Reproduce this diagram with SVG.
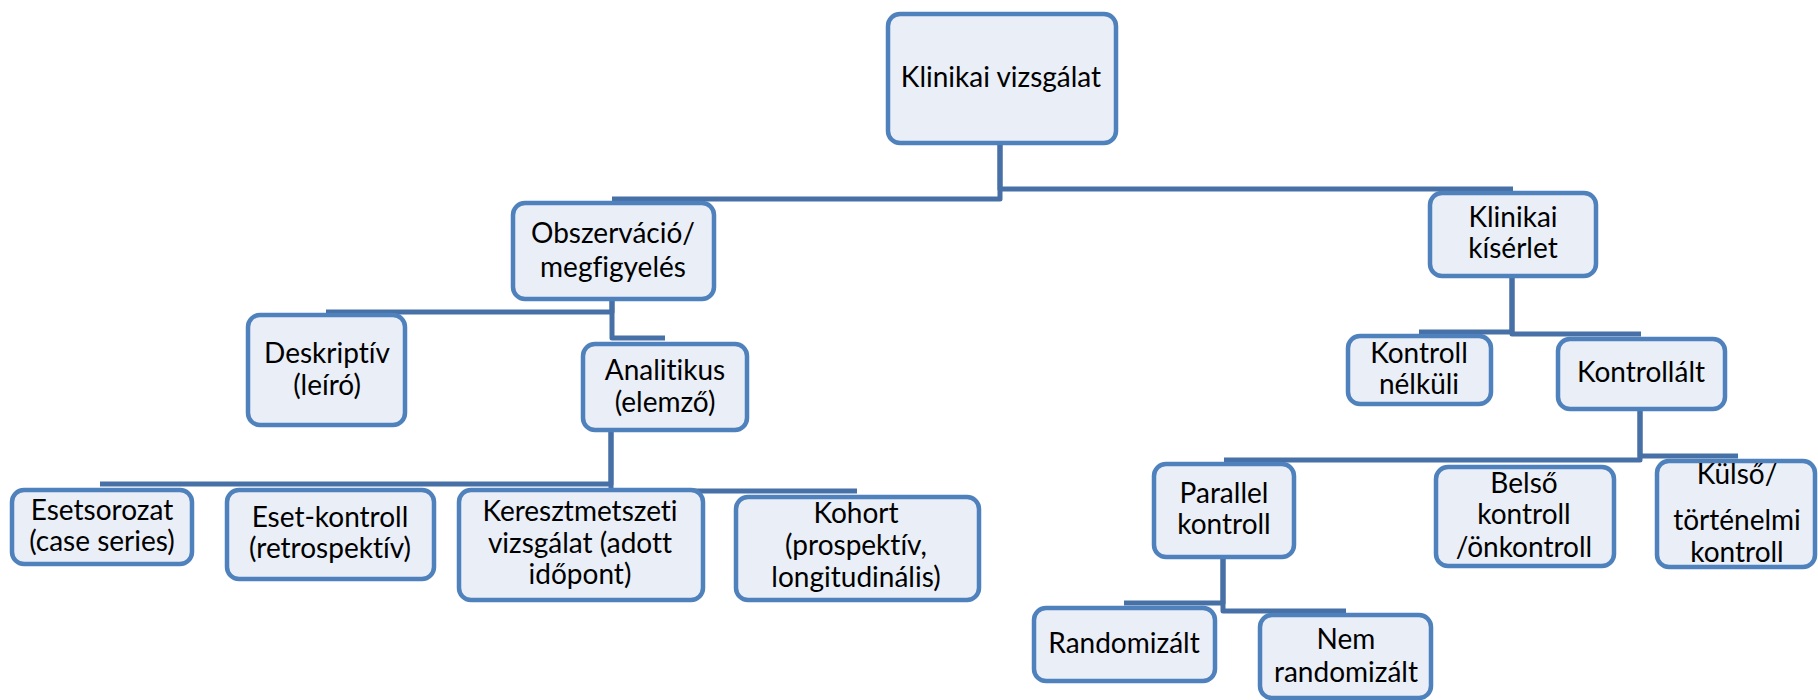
<svg xmlns="http://www.w3.org/2000/svg" width="1818" height="700" viewBox="0 0 1818 700">
<style>
.box{fill:#e9eef7;stroke:#4f81bd;stroke-width:4.5}
.t{font-family:Lato,"Open Sans","Liberation Sans",sans-serif;font-size:28px;fill:#000;text-anchor:middle;font-variant-ligatures:none;font-feature-settings:"liga" 0}
.c{fill:none;stroke:#4670a6;stroke-width:5;stroke-linejoin:round}
</style>
<rect width="1818" height="700" fill="#fff"/>
<g id="connectors">
<path class="c" d="M1000,144 V199 H612"/>
<path class="c" d="M1000,144 V189 H1513"/>
<path class="c" d="M612,300 V312 H326"/>
<path class="c" d="M612,300 V338 H665"/>
<path class="c" d="M611,431 V484 H100"/>
<path class="c" d="M611,431 V491 H857"/>
<path class="c" d="M1512,277 V332 H1419"/>
<path class="c" d="M1512,277 V334 H1641"/>
<path class="c" d="M1640,409 V460 H1224"/>
<path class="c" d="M1640,409 V456 H1738"/>
<path class="c" d="M1223,557 V603 H1124"/>
<path class="c" d="M1223,557 V611 H1346"/>
</g>
<g id="n-root"><rect class="box" x="888" y="14" width="228" height="129" rx="12"/><text class="t" x="1001" y="87">Klinikai vizsgálat</text></g>
<g id="n-obszervacio"><rect class="box" x="513" y="203" width="201" height="96" rx="12"/><text class="t" x="613" y="243">Obszerváció/</text><text class="t" x="613" y="277">megfigyelés</text></g>
<g id="n-deskriptiv"><rect class="box" x="248" y="315" width="157" height="110" rx="12"/><text class="t" x="327" y="363">Deskriptív</text><text class="t" x="327" y="395">(leíró)</text></g>
<g id="n-analitikus"><rect class="box" x="583" y="344" width="164" height="86" rx="12"/><text class="t" x="665" y="380">Analitikus</text><text class="t" x="665" y="412">(elemző)</text></g>
<g id="n-esetsorozat"><rect class="box" x="12" y="490" width="180" height="74" rx="12"/><text class="t" x="102" y="520">Esetsorozat</text><text class="t" x="102" y="551">(case series)</text></g>
<g id="n-esetkontroll"><rect class="box" x="227" y="490" width="207" height="89" rx="12"/><text class="t" x="330" y="527">Eset-kontroll</text><text class="t" x="330" y="558">(retrospektív)</text></g>
<g id="n-keresztmetszeti"><rect class="box" x="459" y="490" width="244" height="110" rx="12"/><text class="t" x="580" y="521">Keresztmetszeti</text><text class="t" x="580" y="553">vizsgálat (adott</text><text class="t" x="580" y="584">időpont)</text></g>
<g id="n-kohort"><rect class="box" x="736" y="497" width="243" height="103" rx="12"/><text class="t" x="856" y="523">Kohort</text><text class="t" x="856" y="555">(prospektív,</text><text class="t" x="856" y="587">longitudinális)</text></g>
<g id="n-klinikaikiserlet"><rect class="box" x="1430" y="193" width="166" height="83" rx="12"/><text class="t" x="1513" y="227">Klinikai</text><text class="t" x="1513" y="258">kísérlet</text></g>
<g id="n-kontrollnelkuli"><rect class="box" x="1348" y="336" width="143" height="68" rx="12"/><text class="t" x="1419" y="363">Kontroll</text><text class="t" x="1419" y="394">nélküli</text></g>
<g id="n-kontrollalt"><rect class="box" x="1558" y="339" width="167" height="70" rx="12"/><text class="t" x="1641" y="382">Kontrollált</text></g>
<g id="n-parallel"><rect class="box" x="1154" y="464" width="140" height="93" rx="12"/><text class="t" x="1224" y="503">Parallel</text><text class="t" x="1224" y="534">kontroll</text></g>
<g id="n-belso"><rect class="box" x="1436" y="467" width="178" height="99" rx="12"/><text class="t" x="1524" y="493">Belső</text><text class="t" x="1524" y="524">kontroll</text><text class="t" x="1524" y="557">/önkontroll</text></g>
<g id="n-kulso"><rect class="box" x="1657" y="461" width="158" height="106" rx="12"/><text class="t" x="1737" y="484">Külső/</text><text class="t" x="1737" y="530">történelmi</text><text class="t" x="1737" y="562">kontroll</text></g>
<g id="n-randomizalt"><rect class="box" x="1034" y="608" width="181" height="73" rx="12"/><text class="t" x="1124" y="653">Randomizált</text></g>
<g id="n-nemrandomizalt"><rect class="box" x="1260" y="615" width="171" height="83" rx="12"/><text class="t" x="1346" y="649">Nem</text><text class="t" x="1346" y="682">randomizált</text></g>
</svg>
